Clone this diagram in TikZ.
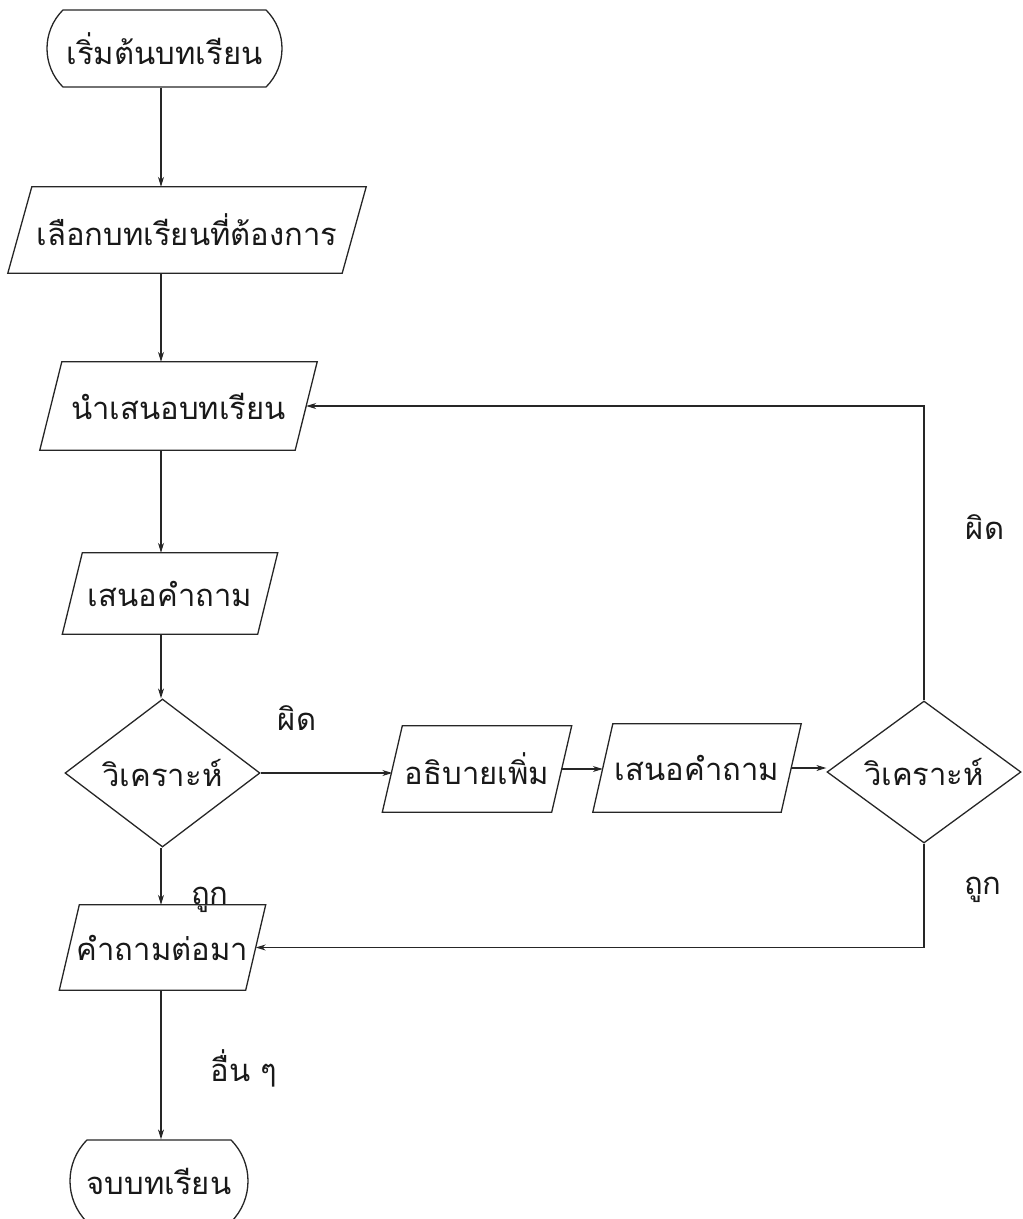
\documentclass[tikz,border=0pt]{standalone}
\usepackage{fontspec}
\newfontfamily\thai[Script=Thai]{Loma}
\usetikzlibrary{shapes.geometric,shapes.misc,arrows.meta,calc}
\newcommand{\parashape}[2][10]{\draw[shapeline] ([xshift=#1pt]#2.north west) -- ([xshift=#1pt]#2.north east) -- ([xshift=-#1pt]#2.south east) -- ([xshift=-#1pt]#2.south west) -- cycle;}
\begin{document}
\begin{tikzpicture}[x=1pt,y=-1pt,
  txt/.style={font={\thai\fontsize{31}{37}\selectfont}, text=black!90},
  shapeline/.style={line width=1.3pt, draw=black!85},
  term/.style={txt, rounded rectangle, rounded rectangle arc length=90, draw=black!85, line width=1.3pt, inner sep=0pt},
  para/.style={txt, rectangle, inner sep=0pt},
  dec/.style={txt, diamond, draw=black!85, line width=1.3pt, inner sep=0pt},
  lbl/.style={txt},
  arr/.style={line width=1.1pt, draw=black!85, -{Stealth[length=10pt,width=6pt]}}]
\useasboundingbox (0,0) rectangle (1023,1219);
\clip (0,0) rectangle (1023,1219);
\coordinate (col) at (161,0);
% nodes
\node[term, minimum width=235pt, minimum height=77pt] (start) at (164.5,48.5) {เริ่มต้นบทเรียน};
\node[para, minimum width=334pt, minimum height=86pt] (p2) at (187,230) {เลือกบทเรียนที่ต้องการ};
\parashape[12]{p2}
\node[para, minimum width=255pt, minimum height=88pt] (p3) at (178.5,406) {นำเสนอบทเรียน};
\parashape[11]{p3}
\node[para, minimum width=195pt, minimum height=81pt] (p4) at (170,593.5) {เสนอคำถาม};
\parashape[10]{p4}
\node[dec, minimum width=195pt, minimum height=148pt] (d1) at (162.5,773) {\makebox[0pt]{วิเคราะห์}};
\node[para, minimum width=169pt, minimum height=86pt] (p5) at (477,769) {อธิบายเพิ่ม};
\parashape[10]{p5}
\node[para, minimum width=188pt, minimum height=88pt] (p6) at (697,768) {เสนอคำถาม};
\parashape[10]{p6}
\node[dec, minimum width=194pt, minimum height=142pt] (d2) at (924,772) {\makebox[0pt]{วิเคราะห์}};
\node[para, minimum width=186pt, minimum height=85pt] (p7) at (162.5,947.5) {คำถามต่อมา};
\parashape[10]{p7}
\node[term, minimum width=178pt, minimum height=82pt] (end) at (159,1181) {จบบทเรียน};
% labels
\node[lbl] (l1) at (297,718) {ผิด};
\node[lbl] (l2) at (985,527) {ผิด};
\node[lbl] (l3) at (983,890) {ถูก};
\node[lbl, anchor=base] (l4) at (210,904) {ถูก};
\node[lbl] (l5) at (244,1068) {อื่น ๆ};
% connectors
\draw[arr] (start.south -| col) -- (p2.north -| col);
\draw[arr] (p2.south -| col) -- (p3.north -| col);
\draw[arr] (p3.south -| col) -- (p4.north -| col);
\draw[arr] (p4.south -| col) -- (d1.north -| col);
\draw[arr] (d1.east) -- (d1.east -| p5.west);
\draw[arr] (p5.east) -- (p5.east -| p6.west);
\draw[arr] (p6.east) -- (p6.east -| d2.west);
\draw[arr] (d2.north) |- (p3.east);
\draw[arr] (d2.south) |- (p7.east);
\draw[arr] (d1.south -| col) -- (p7.north -| col);
\draw[arr] (p7.south -| col) -- (end.north -| col);
\end{tikzpicture}
\end{document}
